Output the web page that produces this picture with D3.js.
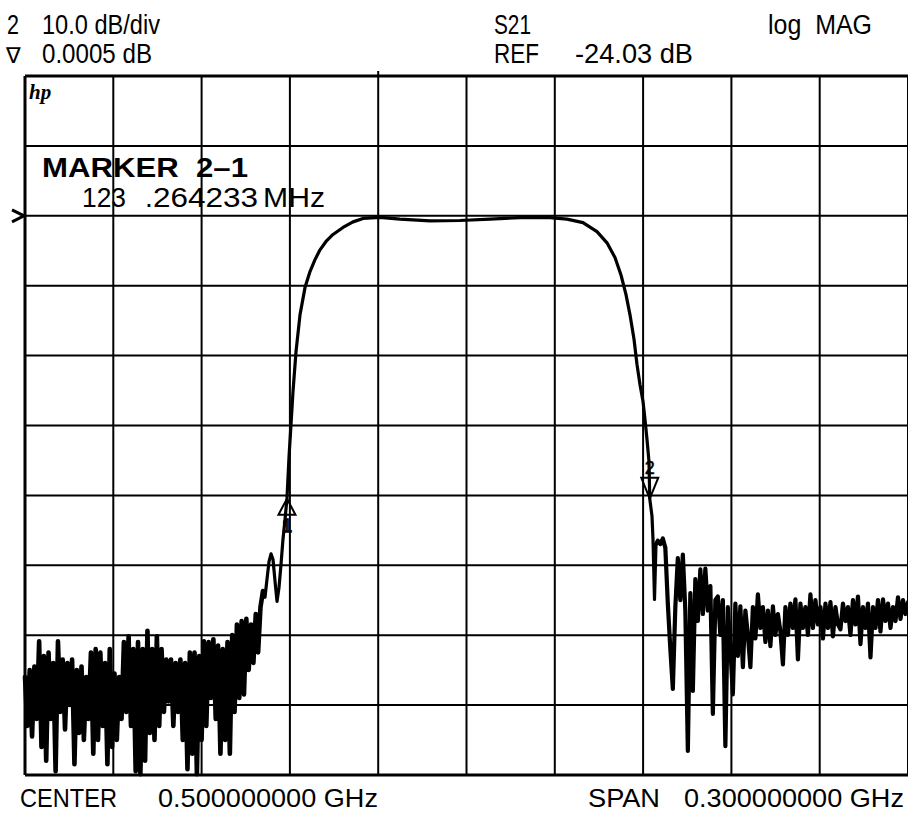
<!DOCTYPE html>
<html>
<head>
<meta charset="utf-8">
<script src="https://cdn.jsdelivr.net/npm/d3@7/dist/d3.min.js"></script>
<style>
body { margin: 0; background: #fff; }
svg { display: block; }
text { font-family: "Liberation Sans", Arial, sans-serif; fill: #000; white-space: pre; }
</style>
</head>
<body>
<svg id="chart"></svg>
<script>
// analyzer settings
var centerMHz = 500, spanMHz = 300;
var refDB = -24.03, dbPerDiv = 10, refDivFromBottom = 8;

// lower stopband, one reading every 0.8 MHz from 350 MHz
var lowStartMHz = 350, lowStepMHz = 0.8;
var lowNoiseDB = [
  -90, -97, -89, -98.5, -88.5, -96, -84.9, -100, -87, -102,
  -86.5, -96, -88, -103.5, -84.9, -95, -87.5, -97.5, -88, -94,
  -87.5, -102.5, -89, -98, -88.5, -99, -90, -96, -86.5, -101,
  -86, -99, -86.5, -97, -88, -102.5, -86, -100, -89.5, -99,
  -90, -96, -85, -95, -84.2, -97, -86, -103.5, -85, -103.9,
  -86, -102, -83.4, -98, -86, -99, -84.2, -97, -86, -95,
  -87.5, -93.5, -87.5, -97, -88, -95, -87.5, -99, -88, -103.2,
  -86.5, -101, -86.5, -103.9, -87, -99, -84.9, -97, -85, -93,
  -84.6, -96, -85.5, -101, -86, -99, -85, -101, -84, -95,
  -82.5, -93, -82, -92.5, -81.7, -89, -82.5, -88, -81, -86.5,
  -80
];

// skirts and passband
var skirtMHz = [
  430.86, 431.54, 432.22, 432.90, 433.58, 434.26, 434.94, 435.62, 436.30, 436.98,
  437.65, 438.34, 439.00, 439.69, 440.37, 441.05, 442.07, 443.43, 445.13, 446.83,
  448.53, 450.23, 452.27, 454.65, 458.04, 461.44, 464.84, 470.61, 477.41, 487.60,
  497.79, 507.98, 518.18, 528.37, 534.14, 539.58, 544.34, 547.73, 550.45, 552.49,
  554.19, 555.55, 556.91, 557.93, 558.95, 559.97, 560.65, 561.32, 562.00, 562.26,
  563.02, 563.36, 563.87, 564.38
];
var skirtDB = [
  -77.7, -78.6, -76.0, -73.5, -72.4, -73.2, -76.3, -79.2, -77.2, -73.9,
  -70.3, -67.5, -64.5, -58.6, -53.9, -49.2, -43.5, -38.2, -34.3, -32.0,
  -30.3, -28.9, -27.7, -26.7, -25.7, -24.9, -24.4, -24.25, -24.5, -24.75,
  -24.7, -24.5, -24.3, -24.3, -24.5, -25.0, -26.3, -27.9, -30.0, -32.5,
  -35.3, -38.2, -41.7, -45.3, -48.2, -50.6, -53.2, -56.0, -59.2, -64.5,
  -67.0, -70.3, -78.9, -71.0
];

// upper stopband, one reading every 0.85 MHz from 565 MHz
var highStartMHz = 565, highStepMHz = 0.85;
var highNoiseDB = [
  -70.5, -71, -70.2, -71.5, -79.5, -86, -91.7, -80, -73, -79,
  -72.5, -80.5, -100.6, -78, -92, -76, -82, -74.6, -81, -74.5,
  -80.5, -77, -95.3, -79, -78.5, -84, -79, -99.9, -80, -86,
  -92.5, -79.5, -87, -79.9, -88.6, -80.5, -84, -88.6, -80, -84.5,
  -78.2, -83, -80, -85, -80.5, -85.6, -79.9, -84, -81, -83.5,
  -88.2, -80, -84, -79.5, -83, -78.9, -87.5, -79.5, -83, -80,
  -84, -78.2, -83, -79, -82.5, -80, -84.5, -79.5, -83, -79.3,
  -84.2, -80, -82.5, -83.2, -79.5, -82, -80, -84, -79, -82.5,
  -78.5, -85.3, -80, -83, -79.5, -87.2, -80, -83, -79, -83.5,
  -78.9, -82, -79.5, -83, -80, -82, -78.6, -81.7, -79, -81,
  -79.3
];

// markers 1 and 2
var markerMHz = [439.0, 562.264233];
var markerDB = [-64.5, -64.5];

var W = 908, H = 813;
var plot = { left: 25, right: 908, top: 76, bottom: 775 };

var svg = d3.select("#chart").attr("width", W).attr("height", H);
svg.append("rect").attr("width", W).attr("height", H).attr("fill", "#fff");

var x = d3.scaleLinear()
    .domain([centerMHz - spanMHz / 2, centerMHz + spanMHz / 2])
    .range([plot.left, plot.right]);
var y = d3.scaleLinear()
    .domain([refDB - refDivFromBottom * dbPerDiv, refDB + (10 - refDivFromBottom) * dbPerDiv])
    .range([plot.bottom, plot.top]);

// graticule
var xDivs = d3.range(0, 11).map(function(i) { return x.domain()[0] + i * spanMHz / 10; });
var yDivs = d3.range(0, 11).map(function(i) { return y.domain()[0] + i * dbPerDiv; });

var grid = svg.append("g").attr("stroke", "#000");
grid.selectAll("line.v").data(xDivs).enter().append("line")
    .attr("class", "v")
    .attr("x1", function(d) { return x(d); }).attr("x2", function(d) { return x(d); })
    .attr("y1", plot.top).attr("y2", plot.bottom)
    .attr("stroke-width", function(d, i) { return i == 0 ? 3 : 2; });
grid.selectAll("line.h").data(yDivs).enter().append("line")
    .attr("class", "h")
    .attr("x1", plot.left).attr("x2", plot.right)
    .attr("y1", function(d) { return y(d); }).attr("y2", function(d) { return y(d); })
    .attr("stroke-width", function(d, i) { return (i == 0 || i == 10) ? 3 : 2; });
// small tick above the frame
grid.append("line")
    .attr("x1", x(xDivs[4])).attr("x2", x(xDivs[4]))
    .attr("y1", plot.top - 5).attr("y2", plot.top)
    .attr("stroke-width", 2);

// trace
var low = lowNoiseDB.map(function(v, i) { return [lowStartMHz + i * lowStepMHz, v]; });
var skirt = skirtMHz.map(function(f, i) { return [f, skirtDB[i]]; });
var high = highNoiseDB.map(function(v, i) { return [highStartMHz + i * highStepMHz, v]; });

var line = d3.line()
    .x(function(d) { return x(d[0]); })
    .y(function(d) { return y(d[1]); });

var traceG = svg.append("g")
    .attr("fill", "none")
    .attr("stroke", "#000")
    .attr("stroke-linejoin", "round")
    .attr("stroke-linecap", "round");

traceG.append("path").datum(low.concat(skirt.slice(0, 1))).attr("d", line).attr("stroke-width", 4.6);
traceG.append("path").datum(skirt).attr("d", line).attr("stroke-width", 3.2);
traceG.append("path").datum(skirt.slice(-1).concat(high)).attr("d", line).attr("stroke-width", 4.2);

// reference position marker
var ry = y(refDB);
svg.append("path")
    .attr("d", "M12," + (ry - 6) + "L24," + ry + "L12," + (ry + 6))
    .attr("fill", "none").attr("stroke", "#000").attr("stroke-width", 3);

// marker symbols
markerMHz.forEach(function(f, i) {
    var mx = x(f), my = y(markerDB[i]);
    var dir = i == 0 ? 1 : -1;
    var h = i == 0 ? 16 : 21;
    svg.append("path")
        .attr("d", "M" + mx + "," + my + "L" + (mx - 8.5) + "," + (my + dir * h) + "L" + (mx + 8.5) + "," + (my + dir * h) + "Z")
        .attr("fill", "none").attr("stroke", "#000").attr("stroke-width", 2);
    svg.append("text")
        .attr("x", mx).attr("y", i == 0 ? my + 33 : my - 25)
        .attr("text-anchor", "middle")
        .style("font-size", "18px")
        .style("fill", i == 0 ? "#fff" : "#000")
        .attr("stroke", "#000").attr("stroke-width", i == 0 ? 1.4 : 0.5)
        .text(i + 1);
});

function label(txt, x0, yb, size, len, weight) {
    var t = svg.append("text")
        .attr("x", x0).attr("y", yb)
        .style("font-size", size + "px")
        .style("font-weight", weight || "normal")
        .text(txt);
    if (len) t.attr("textLength", len).attr("lengthAdjust", "spacingAndGlyphs");
    return t;
}

// header (narrow, tall lettering)
label("2", 7, 34, 27, 12);
label("10.0 dB/div", 42, 34, 27, 118);
label("S21", 494, 34, 27, 37);
label("log  MAG", 768, 34, 27, 104);
label("\u2207", 6, 63, 22);
label("0.0005 dB", 42, 63, 27, 110);
label("REF", 494, 63, 27, 45);
label("-24.03 dB", 575, 63, 27, 118);

// footer
label("CENTER", 20, 807, 25, 97);
label("0.500000000 GHz", 158, 807, 25, 220);
label("SPAN", 588, 807, 25, 72);
label("0.300000000 GHz", 684, 807, 25, 220);

// annotations inside the graticule
svg.append("text")
    .attr("x", 29).attr("y", 99)
    .style("font-family", "'Liberation Serif', serif")
    .style("font-style", "italic").style("font-weight", "bold")
    .style("font-size", "21px")
    .text("hp");
label("MARKER  2\u20131", 42, 177, 27, 206, "bold");
label("123", 82, 207, 28, 44);
label(".", 145, 207, 28);
label("264233", 153, 207, 28, 105);
label("MHz", 263, 207, 28, 62);
</script>
</body>
</html>
